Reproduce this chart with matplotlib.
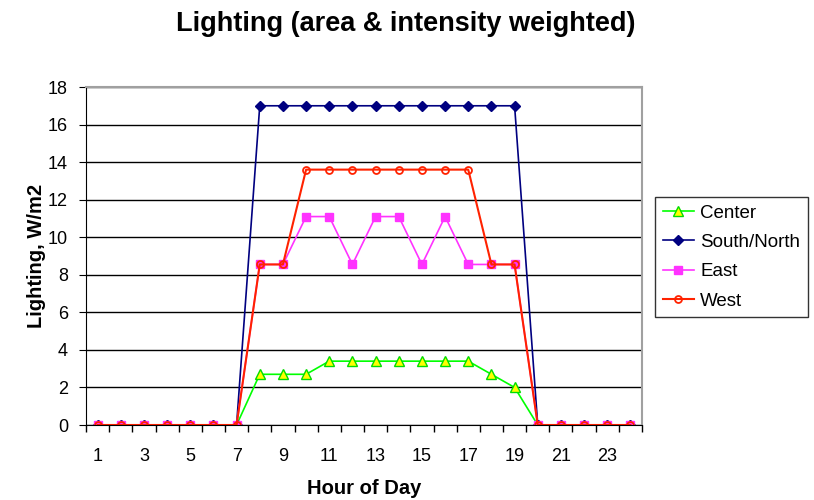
import matplotlib.pyplot as plt
from matplotlib.ticker import FixedLocator

plt.rcParams["font.family"] = ["Liberation Sans", "DejaVu Sans"]

hours = list(range(1, 25))
center = [0, 0, 0, 0, 0, 0, 0, 2.7, 2.7, 2.7, 3.4, 3.4, 3.4, 3.4, 3.4, 3.4, 3.4,
          2.7, 2.0, 0, 0, 0, 0, 0]
south_north = [0, 0, 0, 0, 0, 0, 0, 17, 17, 17, 17, 17, 17, 17, 17, 17, 17,
               17, 17, 0, 0, 0, 0, 0]
east = [0, 0, 0, 0, 0, 0, 0, 8.55, 8.55, 11.1, 11.1, 8.55, 11.1, 11.1, 8.55, 11.1,
        8.55, 8.55, 8.55, 0, 0, 0, 0, 0]
west = [0, 0, 0, 0, 0, 0, 0, 8.55, 8.55, 13.6, 13.6, 13.6, 13.6, 13.6, 13.6, 13.6,
        13.6, 8.55, 8.55, 0, 0, 0, 0, 0]

fig = plt.figure(figsize=(8.14, 5.0), dpi=100)
ax = fig.add_axes([86 / 814, 75 / 500, 556 / 814, 338 / 500])

ax.plot(hours, center, color="#00ff00", lw=1.2, marker="^", ms=7,
        mfc="#ffff00", mec="#00dd00", mew=1, label="Center")
ax.plot(hours, south_north, color="#000080", lw=1.2, marker="D", ms=5,
        mfc="#000080", mec="#000080", label="South/North")
ax.plot(hours, east, color="#ff33ff", lw=1.2, marker="s", ms=6,
        mfc="#ff33ff", mec="#ff33ff", label="East")
ax.plot(hours, west, color="#ff2200", lw=1.5, marker="o", ms=5,
        mfc="none", mec="#ff2200", mew=1.3, label="West")

ax.set_xlim(0.5, 24.5)
ax.set_ylim(0, 18)
ax.set_yticks(range(0, 19, 2))
ax.yaxis.grid(True, color="black", lw=1)
ax.set_axisbelow(True)

ax.set_xticks(range(1, 25, 2))
ax.xaxis.set_minor_locator(FixedLocator([h + 0.5 for h in range(0, 25)]))
ax.tick_params(axis="x", which="major", length=0, pad=16.5, labelsize=13)
ax.tick_params(axis="x", which="minor", length=5, direction="out", width=1)
ax.tick_params(axis="y", length=5, direction="out", labelsize=13, pad=8)

for side in ("top", "right"):
    ax.spines[side].set_color("#a0a0a0")
    ax.spines[side].set_linewidth(1.5)
for side in ("left", "bottom"):
    ax.spines[side].set_color("black")

ax.set_xlabel("Hour of Day", fontsize=14.5, fontweight="bold", labelpad=10)
ax.set_ylabel("Lighting, W/m2", fontsize=14.5, fontweight="bold", labelpad=1)
fig.suptitle("Lighting (area & intensity weighted)", fontsize=19.5,
             fontweight="bold", x=406 / 814, y=1 - 24 / 500, va="center")

# legend box sits right of the plot, centred around y=257 px from the top
leg = ax.legend(loc="center left", bbox_to_anchor=(655 / 814, 1 - 257 / 500),
                bbox_transform=fig.transFigure, fontsize=13.5, frameon=True,
                fancybox=False, edgecolor="black", handlelength=1.7,
                borderpad=0.4, labelspacing=0.65, handletextpad=0.3,
                borderaxespad=0)
leg.get_frame().set_linewidth(1)

fig.savefig("out.png", dpi=100)
